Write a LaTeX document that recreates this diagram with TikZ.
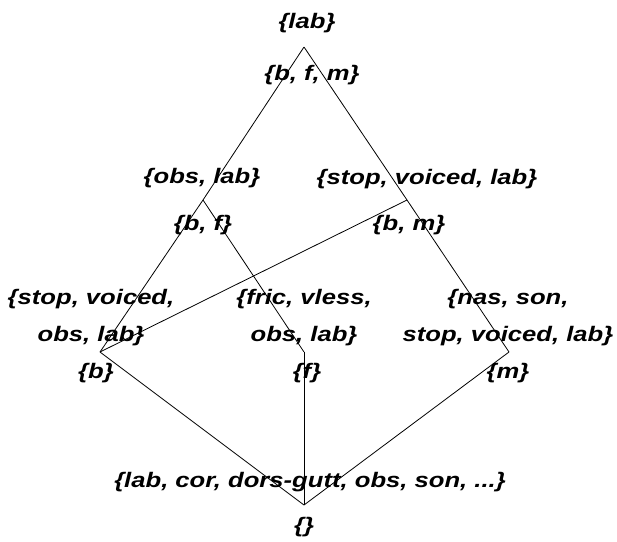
\documentclass[tikz,border=0pt]{standalone}
\usepackage{fontspec}
\setmainfont{Liberation Sans}[FakeStretch=1.22]
\tikzset{
  edge/.style={line width=0.8pt, black},
  lbl/.style={font=\fontsize{21}{37}\selectfont\bfseries\itshape, inner sep=0pt, align=center}
}
\begin{document}
\begin{tikzpicture}[x=1pt, y=-1pt]
\useasboundingbox (0,0) rectangle (617,541);
% lattice vertices
\coordinate (top) at (304,47);
\coordinate (obslab) at (203,200);
\coordinate (svl) at (407,200);
\coordinate (vb) at (100,352);
\coordinate (vf) at (304,352);
\coordinate (vm) at (509,352);
\coordinate (bot) at (304,505);
% edges of the lattice
\draw[edge] (top) -- (obslab);
\draw[edge] (top) -- (svl);
\draw[edge] (obslab) -- (vb);
\draw[edge] (obslab) -- (vf);
\draw[edge] (svl) -- (vb);
\draw[edge] (svl) -- (vm);
\draw[edge] (vb) -- (bot);
\draw[edge] (vf) -- (bot);
\draw[edge] (vm) -- (bot);
% intents (above) and extents (below)
\node[lbl] (ilab) at (307,23) {\{lab\}};
\node[lbl] (ebfm) at (312,75) {\{b, f, m\}};
\node[lbl] (iobs) at (202,178) {\{obs, lab\}};
\node[lbl] (ebf) at (203,225) {\{b, f\}};
\node[lbl] (isvl) at (427,179) {\{stop, voiced, lab\}};
\node[lbl] (ebm) at (409,225) {\{b, m\}};
\node[lbl] (ib) at (91,318) {\{stop, voiced,\\obs, lab\}};
\node[lbl] (eb) at (96,373) {\{b\}};
\node[lbl] (if) at (304,318) {\{fric, vless,\\obs, lab\}};
\node[lbl] (ef) at (307,373) {\{f\}};
\node[lbl] (im) at (508,318) {\{nas, son,\\stop, voiced, lab\}};
\node[lbl] (em) at (508,373) {\{m\}};
\node[lbl] (iall) at (310,482) {\{lab, cor, dors-gutt, obs, son, ...\}};
\node[lbl] (enone) at (304,527) {\{\}};
\end{tikzpicture}
\end{document}
